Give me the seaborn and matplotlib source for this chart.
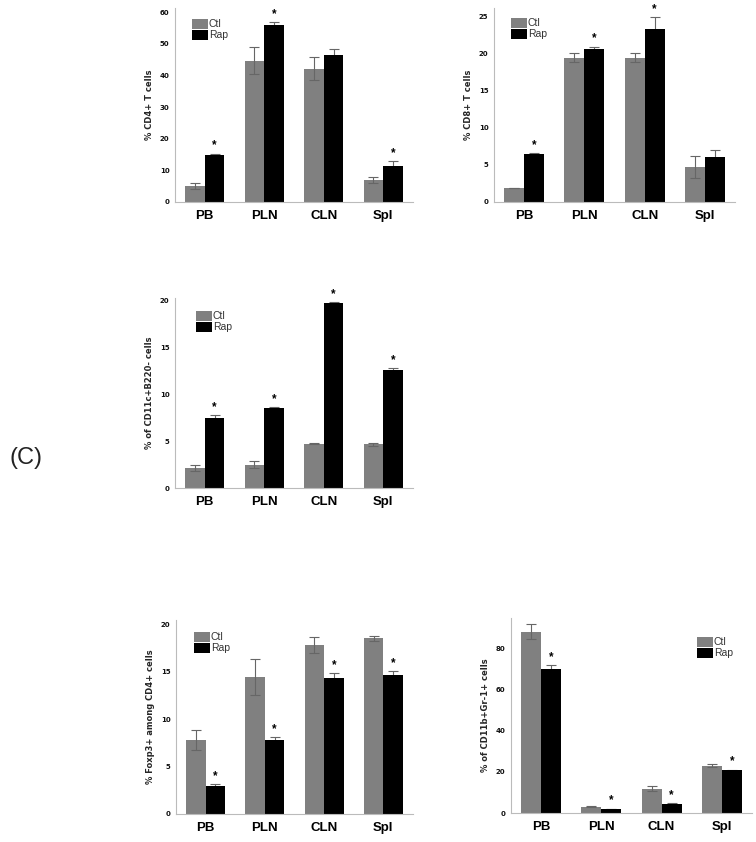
import matplotlib
matplotlib.use('Agg')
import matplotlib.pyplot as plt
import pandas as pd
import seaborn as sns

# data (mean, error) per tissue
tissues = ["PB", "PLN", "CLN", "Spl"]
groups = ["Ctl", "Rap"]

cd4_ctl = [5.0, 44.6, 42.1, 7.0]
cd4_ctl_err = [0.9, 4.3, 3.6, 0.9]
cd4_rap = [14.8, 55.9, 46.5, 11.5]
cd4_rap_err = [0.5, 1.0, 1.8, 1.4]
cd4_star = [True, True, False, True]

cd8_ctl = [1.9, 19.4, 19.4, 4.7]
cd8_ctl_err = [0.05, 0.6, 0.6, 1.5]
cd8_rap = [6.4, 20.6, 23.3, 6.0]
cd8_rap_err = [0.15, 0.3, 1.6, 1.0]
cd8_star = [True, True, True, False]

cd11c_ctl = [2.15, 2.5, 4.75, 4.65]
cd11c_ctl_err = [0.3, 0.35, 0.08, 0.15]
cd11c_rap = [7.5, 8.5, 19.75, 12.6]
cd11c_rap_err = [0.3, 0.15, 0.15, 0.2]
cd11c_star = [True, True, True, True]

foxp3_ctl = [7.8, 14.4, 17.85, 18.5]
foxp3_ctl_err = [1.1, 1.9, 0.85, 0.25]
foxp3_rap = [2.95, 7.75, 14.3, 14.6]
foxp3_rap_err = [0.2, 0.35, 0.55, 0.45]
foxp3_star = [True, True, True, True]

cd11b_ctl = [88.1, 3.05, 11.8, 22.9]
cd11b_ctl_err = [3.8, 0.2, 1.3, 0.8]
cd11b_rap = [70.0, 1.9, 4.35, 20.8]
cd11b_rap_err = [1.9, 0.2, 0.5, 0.3]
cd11b_star = [True, True, True, True]

sns.set_style("white")
plt.rcParams['font.family'] = ['Liberation Sans', 'DejaVu Sans']

fig = plt.figure(figsize=(7.56, 8.42), dpi=100)
W, H = 756.0, 842.0

def frac(l, t, r, b):
    return [l / W, 1 - b / H, (r - l) / W, (b - t) / H]

# (ctl, ctl_err, rap, rap_err, stars, ylabel, yticks, ytop, axes px box, legend anchor px)
panels = [
    (cd4_ctl, cd4_ctl_err, cd4_rap, cd4_rap_err, cd4_star, "% CD4+ T cells",
     [0, 10, 20, 30, 40, 50, 60], 61.3, (175, 8, 413, 202), (192, 19)),
    (cd8_ctl, cd8_ctl_err, cd8_rap, cd8_rap_err, cd8_star, "% CD8+ T cells",
     [0, 5, 10, 15, 20, 25], 26.1, (494, 8, 735, 202), (511, 18)),
    (cd11c_ctl, cd11c_ctl_err, cd11c_rap, cd11c_rap_err, cd11c_star, "% of CD11c+B220- cells",
     [0, 5, 10, 15, 20], 20.3, (175, 298, 413, 488), (196, 311)),
    (foxp3_ctl, foxp3_ctl_err, foxp3_rap, foxp3_rap_err, foxp3_star, "% Foxp3+ among CD4+ cells",
     [0, 5, 10, 15, 20], 20.45, (176, 620, 413, 814), (194, 632)),
    (cd11b_ctl, cd11b_ctl_err, cd11b_rap, cd11b_rap_err, cd11b_star, "% of CD11b+Gr-1+ cells",
     [0, 20, 40, 60, 80], 94.7, (511, 618, 752, 813), (697, 637)),
]

for ctl, ctl_err, rap, rap_err, stars, ylab, yt, ytop, box, leg in panels:
    ax = fig.add_axes(frac(*box))
    df = pd.DataFrame({
        "tissue": tissues * 2,
        "group": ["Ctl"] * 4 + ["Rap"] * 4,
        "value": ctl + rap,
    })
    sns.barplot(data=df, x="tissue", y="value", hue="group", order=tissues,
                hue_order=groups, palette=["#808080", "#000000"], width=0.66,
                errorbar=None, linewidth=0, saturation=1, ax=ax)
    errs = [ctl_err, rap_err]
    vals = [ctl, rap]
    bar_conts = list(ax.containers[:2])
    for k, cont in enumerate(bar_conts):
        xs = [b.get_x() + b.get_width() / 2 for b in cont]
        # Rap error bars sit behind the black bars, so only the upper half shows
        ax.errorbar(xs, vals[k], yerr=errs[k], fmt='none', ecolor='#666666',
                    elinewidth=0.8, capsize=3.8, capthick=0.8,
                    zorder=3 if k == 0 else 0.5)
        if k == 1:
            for x, v, e, s in zip(xs, vals[k], errs[k], stars):
                if s:
                    ax.annotate("*", (x, v + e), xytext=(0, 1.5), textcoords='offset points',
                                ha='center', va='bottom', fontsize=8.5, fontweight='bold',
                                color='black')
    ax.set_xlim(-0.5, 3.5)
    ax.set_ylim(0, ytop)
    ax.set_yticks(yt)
    ax.set_xlabel("")
    ax.set_ylabel(ylab, fontsize=6, fontweight='bold', family='DejaVu Sans', labelpad=4)
    ax.tick_params(axis='y', labelsize=5, length=2, width=0.6, color='#999999', pad=2,
                   labelcolor='#111111')
    ax.tick_params(axis='x', labelsize=9.5, length=0, pad=6, labelcolor='black')
    for lbl in ax.get_yticklabels():
        lbl.set_fontweight('bold')
        lbl.set_family('DejaVu Sans')
    for lbl in ax.get_xticklabels():
        lbl.set_fontweight('bold')
    for sp in ['top', 'right']:
        ax.spines[sp].set_visible(False)
    for sp in ['left', 'bottom']:
        ax.spines[sp].set_color('#bbbbbb')
        ax.spines[sp].set_linewidth(0.8)
    handles, labels = ax.get_legend_handles_labels()
    ax.legend(handles, labels, loc='upper left',
              bbox_to_anchor=(leg[0] / W, 1 - leg[1] / H), bbox_transform=fig.transFigure,
              frameon=False, fontsize=7.5, handlelength=1.5, handleheight=1.05,
              handletextpad=0.1, labelspacing=0.05, borderpad=0, borderaxespad=0,
              labelcolor='#333333')

fig.text(26 / W, 1 - 458 / H, "(C)", fontsize=17, ha='center', va='center', color='#222222')

fig.savefig("out.png", dpi=100)
